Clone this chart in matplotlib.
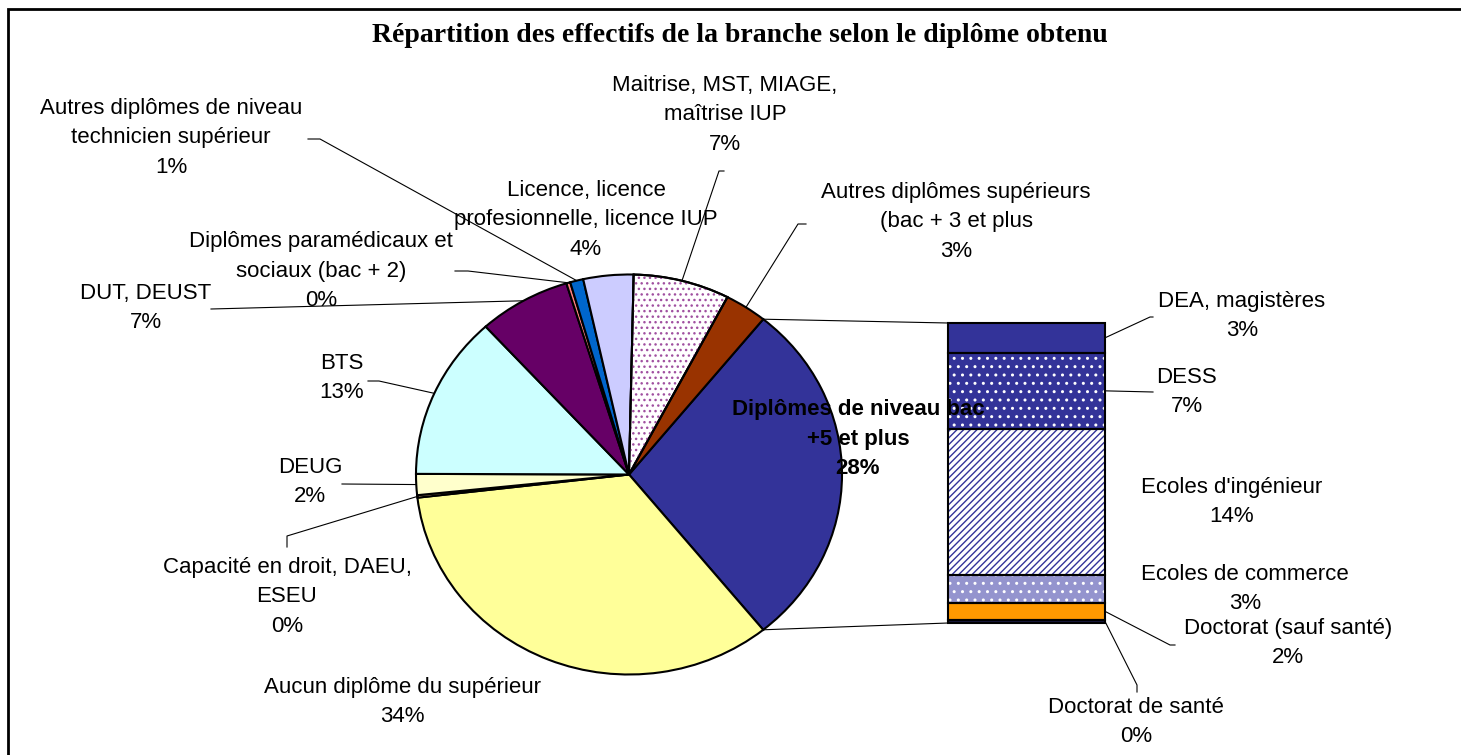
"""
Bar-of-pie chart: Répartition des effectifs de la branche selon le diplôme obtenu.
Saves out.png (1461x755).
"""
import numpy as np
import matplotlib
matplotlib.use("Agg")
import matplotlib.pyplot as plt
from matplotlib.patches import Wedge

W, H = 1461, 755

# ---- data (% of staff) ----
# pie slices, clockwise starting with the "other" slice that feeds the bar
pie_labels = [
    "Diplômes de niveau bac\n+5 et plus",
    "Aucun diplôme du supérieur",
    "Capacité en droit, DAEU,\nESEU",
    "DEUG",
    "BTS",
    "DUT, DEUST",
    "Diplômes paramédicaux et\nsociaux (bac + 2)",
    "Autres diplômes de niveau\ntechnicien supérieur",
    "Licence, licence\nprofesionnelle, licence IUP",
    "Maitrise, MST, MIAGE,\nmaîtrise IUP",
    "Autres diplômes supérieurs\n(bac + 3 et plus",
]
pie_rest = [34.0, 0.2, 1.7, 13.2, 7.0, 0.3, 1.0, 3.8, 7.3, 3.2]

# breakdown of the bac+5 slice, stacked from the bottom of the bar
bar_labels = [
    "Doctorat de santé",
    "Doctorat (sauf santé)",
    "Ecoles de commerce",
    "Ecoles d'ingénieur",
    "DESS",
    "DEA, magistères",
]
bar_values = [0.3, 1.6, 2.6, 13.8, 7.2, 2.8]

pie_values = [sum(bar_values)] + pie_rest
total = sum(pie_values)

# ---- styles ----
pie_colors = ["#333399", "#FFFF99", "#FFCC99", "#FFFFCC", "#CCFFFF", "#660066",
              "#FF8080", "#0066CC", "#CCCCFF", "#FFFFFF", "#993300"]
bar_colors = ["#1a1a40", "#FF9900", "#9494CE", "#FFFFFF", "#333399", "#333399"]
bar_hatch = {2: ("white", ".."), 3: ("#333399", "/////"), 4: ("white", "..")}

plt.rcParams["font.family"] = ["Liberation Sans", "DejaVu Sans"]
plt.rcParams["hatch.linewidth"] = 1.0
FS = 16
LS = 1.55

# ---- layout in pixels ----
CX, CY, RX, RY = 629, 474.5, 213, 200          # pie ellipse
BX0, BY0, BX1, BY1 = 948, 323, 1105, 623       # bar box

pie_text_pos = [(858, 439), (402, 702), (287, 597), (310, 482), (342, 378),
                (146, 308), (321, 271), (171, 138), (586, 220), (725, 115),
                (956, 222)]
# elbow points of the leader lines (from label side), None = no line
pie_elbows = [None, None, [(287, 547), (287, 536)], [(342, 484)],
              [(368, 381), (379, 381)], [(211, 309)],
              [(455, 271), (468, 271)], [(308, 139), (320, 139)], None,
              [(724, 171), (719, 171)], [(806, 224), (798, 224)]]

bar_text_pos = [(1136, 722), (1288, 643), (1245, 589), (1232, 502),
                (1187, 392), (1242, 316)]
bar_elbows = [[(1137, 692), (1137, 685)], [(1175, 645), (1170, 645)], None,
              None, [(1153, 392)], [(1153, 317), (1150, 317)]]


def fig_box(x0, y0, x1, y1):
    return [x0 / W, 1 - y1 / H, (x1 - x0) / W, (y1 - y0) / H]


def edge(theta):
    t = np.deg2rad(theta)
    return CX + RX * np.cos(t), CY - RY * np.sin(t)


fig = plt.figure(figsize=(W / 100, H / 100), dpi=100)

# ---- pie ----
ax_pie = fig.add_axes(fig_box(CX - RX, CY - RY, CX + RX, CY + RY))
start = pie_values[0] / total * 360 / 2
wedges, _ = ax_pie.pie(
    pie_values, colors=pie_colors, startangle=start, counterclock=False,
    radius=1, wedgeprops=dict(edgecolor="black", linewidth=1.5, clip_on=False),
)
ax_pie.set_aspect("auto")
ax_pie.set_xlim(-1, 1)
ax_pie.set_ylim(-1, 1)
ax_pie.axis("off")

# dotted pattern on the Maitrise slice
w = wedges[9]
ax_pie.add_patch(Wedge((0, 0), 1, w.theta1, w.theta2, fill=False,
                       edgecolor="#A050A0", linewidth=0, hatch="...",
                       clip_on=False, zorder=2))
ax_pie.add_patch(Wedge((0, 0), 1, w.theta1, w.theta2, fill=False,
                       edgecolor="black", linewidth=1.5, clip_on=False,
                       zorder=3))

# ---- bar ----
ax_bar = fig.add_axes(fig_box(BX0, BY0, BX1, BY1))
bottoms = np.concatenate([[0], np.cumsum(bar_values)[:-1]])
ax_bar.bar(0, bar_values, width=1, bottom=bottoms, color=bar_colors,
           linewidth=0)
for i, (hc, h) in bar_hatch.items():
    ax_bar.bar(0, bar_values[i], width=1, bottom=bottoms[i], color="none",
               edgecolor=hc, linewidth=0, hatch=h)
ax_bar.bar(0, bar_values, width=1, bottom=bottoms, fill=False,
           edgecolor="black", linewidth=1.5, clip_on=False)
ax_bar.set_xlim(-0.5, 0.5)
ax_bar.set_ylim(0, sum(bar_values))
ax_bar.axis("off")

# ---- overlay for text and leader lines (pixel coordinates) ----
ax = fig.add_axes([0, 0, 1, 1], zorder=5)
ax.set_xlim(0, W)
ax.set_ylim(H, 0)
ax.axis("off")

# chart frame
ax.plot([8, 8, W], [H, 9, 9], color="black", lw=2, solid_joinstyle="miter")

ax.text(740, 35, "Répartition des effectifs de la branche selon le diplôme obtenu",
        ha="center", va="center", fontsize=20, fontweight="bold",
        family=["Liberation Serif", "DejaVu Serif"])

lw_lead = 0.8
for i, (lab, v) in enumerate(zip(pie_labels, pie_values)):
    tx, ty = pie_text_pos[i]
    pct = round(v / total * 100)
    ax.text(tx, ty, f"{lab}\n{pct}%", ha="center", va="center", fontsize=FS,
            linespacing=LS, fontweight="bold" if i == 0 else "normal")
    if pie_elbows[i] is not None:
        mid = (wedges[i].theta1 + wedges[i].theta2) / 2
        pts = pie_elbows[i] + [edge(mid)]
        xs, ys = zip(*pts)
        ax.plot(xs, ys, color="black", lw=lw_lead)

# connector lines from the bac+5 slice to the bar
x_top, y_top = edge(start)
x_bot, y_bot = edge(-start)
ax.plot([x_top, BX0], [y_top, BY0], color="black", lw=lw_lead)
ax.plot([x_bot, BX0], [y_bot, BY1], color="black", lw=lw_lead)

bar_total = sum(bar_values)
for i, (lab, v) in enumerate(zip(bar_labels, bar_values)):
    tx, ty = bar_text_pos[i]
    pct = round(v / total * 100)
    ax.text(tx, ty, f"{lab}\n{pct}%", ha="center", va="center", fontsize=FS,
            linespacing=LS)
    if bar_elbows[i] is not None:
        ymid = BY1 - (bottoms[i] + v / 2) / bar_total * (BY1 - BY0)
        pts = bar_elbows[i] + [(BX1, ymid)]
        xs, ys = zip(*pts)
        ax.plot(xs, ys, color="black", lw=lw_lead)

fig.savefig("out.png", dpi=100)
